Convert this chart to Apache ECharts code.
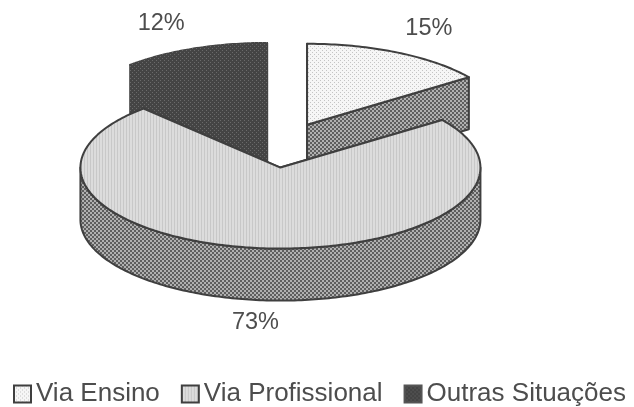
<!DOCTYPE html>
<html>
<head>
<meta charset="utf-8">
<style>
  html, body { margin: 0; padding: 0; background: #fff; }
  #chart { width: 634px; height: 407px; }
</style>
<script src="https://cdn.jsdelivr.net/npm/echarts@6/dist/echarts.min.js"></script>
</head>
<body>
<div id="chart"></div>
<script>
var categories = ['Via Ensino', 'Via Profissional', 'Outras Situações'];
var percents = [15, 73, 12];

// flat picture of a 3d pie, so the slices are worked out here from the percents
var centerX = 285, centerY = 145;
var radiusX = 200, radiusY = 81, depth = 52;
var explodeX = 0.243, explodeY = 0.28;
var lineColor = '#3f3f3f';
var textColor = '#4d4d4d';

// little halftone tiles, the original was a scanned print
function tile(size, base, ink, cells) {
  var c = document.createElement('canvas');
  c.width = size;
  c.height = size;
  var ctx = c.getContext('2d');
  ctx.fillStyle = base;
  ctx.fillRect(0, 0, size, size);
  ctx.fillStyle = ink;
  cells.forEach(function (p) { ctx.fillRect(p[0], p[1], p[2], p[3]); });
  return { image: c, repeat: 'repeat' };
}

var dots = tile(4, '#f6f6f6', '#c4c4c4', [[0, 0, 1, 1], [2, 2, 1, 1]]);
var stripes = tile(3, '#dcdcdc', '#c8c8c8', [[0, 0, 1, 3]]);
var checker = tile(4, '#b0b0b0', '#5e5e5e', [[0, 0, 2, 2], [2, 2, 2, 2]]);
var darkDots = tile(4, '#444444', '#6a6a6a', [[0, 0, 1, 1], [2, 2, 1, 1]]);

var topFills = [dots, stripes, darkDots];
var sideFills = [checker, checker, darkDots];
var edgeColors = [lineColor, lineColor, darkDots];
var drawOrder = [2, 3, 1];
var labelShift = [1, 0, -8];

function toRad(d) { return d * Math.PI / 180; }

// slices go clockwise from 12 o'clock
function sliceAngles(index) {
  var before = 0;
  for (var i = 0; i < index; i++) before += percents[i];
  return {
    from: 90 - before * 3.6,
    to: 90 - (before + percents[index]) * 3.6
  };
}

function rimPoint(cx, cy, deg, drop) {
  return [cx + radiusX * Math.cos(toRad(deg)), cy - radiusY * Math.sin(toRad(deg)) + drop];
}

function arcPoints(cx, cy, from, to, drop) {
  var pts = [];
  var steps = Math.max(2, Math.ceil(Math.abs(from - to)));
  for (var i = 0; i <= steps; i++) {
    pts.push(rimPoint(cx, cy, from + (to - from) * i / steps, drop));
  }
  return pts;
}

function polygon(points, fill, edge) {
  return {
    type: 'polygon',
    shape: { points: points },
    style: { fill: fill, stroke: edge, lineWidth: 2, lineJoin: 'round' }
  };
}

function renderSlice(index) {
  return function () {
    var a = sliceAngles(index);
    var mid = (a.from + a.to) / 2;
    var cx = centerX + explodeX * radiusX * Math.cos(toRad(mid));
    var cy = centerY - explodeY * radiusY * Math.sin(toRad(mid));
    var side = sideFills[index];
    var edge = edgeColors[index];
    var children = [];

    // cut faces
    [a.from, a.to].forEach(function (deg) {
      var p = rimPoint(cx, cy, deg, 0);
      children.push(polygon([[cx, cy], p, [p[0], p[1] + depth], [cx, cy + depth]], side, edge));
    });

    // outer wall, only the part of the rim facing the viewer
    var wallFrom = Math.min(a.from, 0);
    var wallTo = Math.max(a.to, -180);
    if (wallFrom > wallTo) {
      var wall = arcPoints(cx, cy, wallFrom, wallTo, 0)
        .concat(arcPoints(cx, cy, wallTo, wallFrom, depth));
      children.push(polygon(wall, side, edge));
    }

    // top
    children.push(polygon([[cx, cy]].concat(arcPoints(cx, cy, a.from, a.to, 0)), topFills[index], edge));

    // percent label outside the slice
    var sin = Math.sin(toRad(mid));
    children.push({
      type: 'text',
      silent: true,
      style: {
        text: percents[index] + '%',
        x: cx + 1.33 * radiusX * Math.cos(toRad(mid)) + labelShift[index],
        y: cy - 1.33 * radiusY * sin + (sin < 0 ? depth - 4 : 0),
        fill: textColor,
        font: '23.5px "Liberation Sans", Arial, sans-serif',
        align: 'center',
        verticalAlign: 'middle'
      }
    });
    return { type: 'group', children: children };
  };
}

var chart = echarts.init(document.getElementById('chart'));

chart.setOption({
  animation: false,
  backgroundColor: '#fff',
  legend: {
    left: 13,
    top: 381,
    width: 621,
    itemWidth: 17,
    itemHeight: 17,
    itemGap: 21,
    padding: 0,
    selectedMode: false,
    textStyle: {
      color: textColor,
      fontSize: 26,
      fontFamily: '"Liberation Sans", Arial, sans-serif'
    },
    data: categories.map(function (name, i) {
      return {
        name: name,
        icon: 'rect',
        itemStyle: { color: topFills[i], borderColor: i === 2 ? '#555' : lineColor, borderWidth: 2 }
      };
    })
  },
  series: categories.map(function (name, i) {
    return {
      type: 'custom',
      name: name,
      coordinateSystem: 'none',
      z: drawOrder[i],
      silent: true,
      itemStyle: { color: topFills[i] },
      data: [[percents[i]]],
      renderItem: renderSlice(i)
    };
  })
});
</script>
</body>
</html>
